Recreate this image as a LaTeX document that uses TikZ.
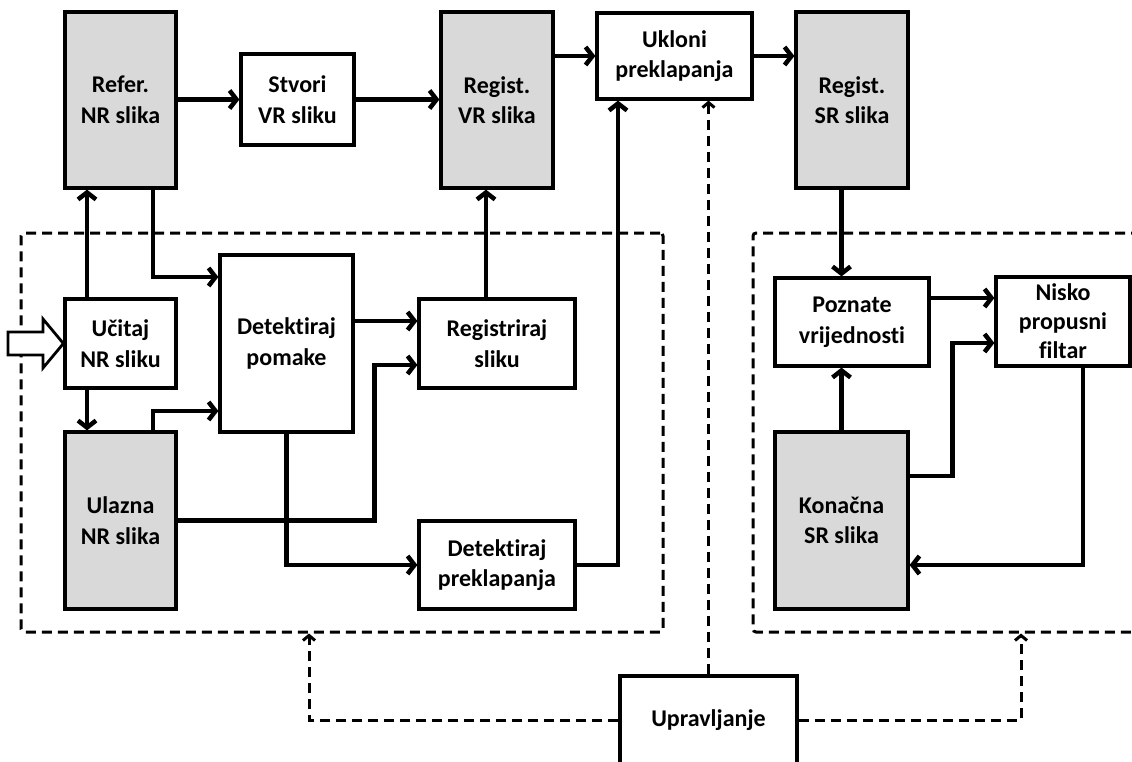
\documentclass[tikz,border=0pt]{standalone}
\usepackage{fontspec}
\setmainfont{Carlito}[Ligatures=NoCommon]
\usetikzlibrary{arrows.meta}
\definecolor{boxgrey}{HTML}{D9D9D9}
\tikzset{
  box/.style={draw, line width=3.2pt, fill=white, align=center, inner sep=0pt,
    font=\fontsize{24}{30.5}\selectfont\bfseries},
  greybox/.style={box, fill=boxgrey},
  group/.style={draw, line width=3pt, dash pattern=on 10pt off 6pt, rounded corners=3pt, inner sep=0pt},
  arr/.style={line width=4.5pt, -{Straight Barb[length=7pt,width=18pt]}},
  ctl/.style={line width=3pt, dash pattern=on 10pt off 6pt, -{Straight Barb[length=5pt,width=12pt]}},
}
\begin{document}
\begin{tikzpicture}[x=1pt,y=-1pt]
\useasboundingbox (0,0) rectangle (1132,762);
\clip (0,0) rectangle (1132,762);

% processing groups
\node[group, minimum width=642, minimum height=399] (L) at (342,432.5) {};
\node[group, minimum width=407, minimum height=399] (R) at (956.5,432.5) {};

% top row
\node[greybox, minimum width=111, minimum height=176] (ref) at (120.5,100) {Refer.\\NR slika};
\node[box, minimum width=113, minimum height=91] (stv) at (297.5,99.5) {Stvori\\VR sliku};
\node[greybox, minimum width=112, minimum height=176] (rvr) at (497,100) {Regist.\\VR slika};
\node[box, minimum width=155, minimum height=86] (ukl) at (674.5,56) {Ukloni\\preklapanja};
\node[greybox, minimum width=112, minimum height=176] (rsr) at (852,100) {Regist.\\SR slika};

% left group
\node[box, minimum width=111, minimum height=89] (uci) at (120.5,343.5) {Učitaj\\NR sliku};
\node[box, minimum width=133, minimum height=177] (dpo) at (286.5,343.5) {Detektiraj\\pomake};
\node[greybox, minimum width=111, minimum height=177] (uln) at (120.5,520.5) {Ulazna\\NR slika};
\node[box, minimum width=156, minimum height=89] (reg) at (497,343.5) {Registriraj\\sliku};
\node[box, minimum width=156, minimum height=88] (dpr) at (497,565) {Detektiraj\\preklapanja};

% right group
\node[box, minimum width=154, minimum height=88] (poz) at (852,322) {Poznate\\vrijednosti};
\node[box, minimum width=134, minimum height=89, font=\fontsize{24}{29}\selectfont\bfseries] (nis) at (1063,321.5) {Nisko\\propusni\\filtar};
\node[greybox, minimum width=133, minimum height=177] (kon) at (841.5,520.5) {Konačna\\SR slika};

% control
\node[box, minimum width=177, minimum height=88] (upr) at (708.5,720) {Upravljanje};
\coordinate (lx) at (309,0);
\coordinate (rx) at (1021,0);

% input arrow
\draw[line width=2.8pt, fill=white, line join=miter]
  (8,332) -- (43,332) -- (43,319) -- (uci.west) -- (43,368) -- (43,355) -- (8,355) -- cycle;

% top row flow
\draw[arr] (stv.west -| ref.east) -- (stv.west);
\draw[arr] (stv.east) -- (rvr.west |- stv.east);
\draw[arr] (rvr.east |- ukl.west) -- (ukl.west);
\draw[arr] (ukl.east) -- (rsr.west |- ukl.east);
\draw[arr] (rsr.south -| kon.north) -- (poz.north -| kon.north);

% left group flow
\draw[arr] ([xshift=-33.5pt]uci.north) -- ([xshift=-33.5pt]ref.south);
\draw[arr] ([xshift=32.5pt]ref.south) |- ([yshift=66.5pt]dpo.west);
\draw[arr] ([xshift=-33.5pt]uci.south) -- ([xshift=-33.5pt]uln.north);
\draw[arr] ([xshift=32.5pt]uln.north) |- ([yshift=-67.5pt]dpo.west);
\draw[arr] ([yshift=22.5pt]dpo.east) -- ([yshift=22.5pt]reg.west);
\draw[arr] (uln.east) -- ++(197,0) |- ([yshift=-21.5pt]reg.west);
\draw[arr] (dpo.south) |- (dpr.west);
\draw[arr] ([xshift=-11pt]reg.north) -- ([xshift=-11pt]rvr.south);
\draw[arr] (dpr.east) -| ([xshift=-56.5pt]ukl.south);

% right group flow
\draw[arr] (kon.north) -- (poz.south -| kon.north);
\draw[arr] ([yshift=24pt]poz.east) -- ([yshift=24pt]poz.east -| nis.west);
\draw[arr] ([yshift=44.5pt]kon.east) -- ++(43,0) |- ([yshift=-21.5pt]nis.west);
\draw[arr] ([xshift=20pt]nis.south) |- ([yshift=-44.5pt]kon.east);

% control lines
\draw[ctl] (upr.north) -- (upr.north |- ukl.south);
\draw[ctl] (upr.west) -| (lx |- L.south);
\draw[ctl] (upr.east) -| (rx |- R.south);
\end{tikzpicture}
\end{document}
